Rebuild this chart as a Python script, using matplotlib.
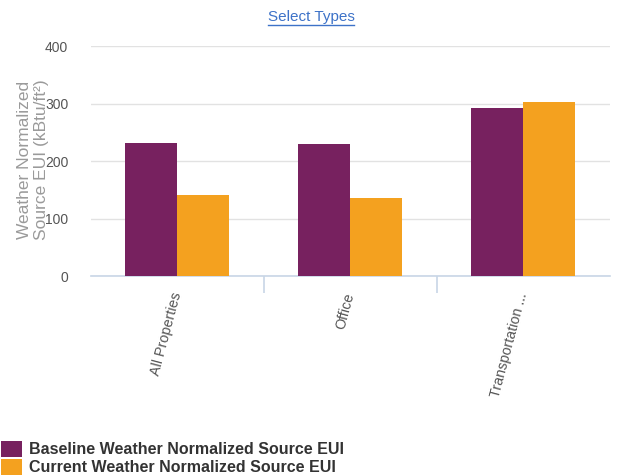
import matplotlib
matplotlib.use("Agg")
import matplotlib.pyplot as plt
from matplotlib.lines import Line2D
import numpy as np

categories = ["All Properties", "Office", "Transportation ..."]
baseline = [232, 230, 293]
current = [141, 136, 303]
series_names = ["Baseline Weather Normalized Source EUI", "Current Weather Normalized Source EUI"]
yticks = [0, 100, 200, 300, 400]

plt.rcParams['font.family'] = ['Liberation Sans', 'DejaVu Sans']

W, H = 619, 476
fig = plt.figure(figsize=(W / 100, H / 100), dpi=100)
ax = fig.add_axes([90.5 / W, 1 - 276 / H, (609.5 - 90.5) / W, (276 - 46) / H])

purple = "#77215f"
orange = "#f4a11f"
x = np.arange(len(categories))
bw = 0.298
b1 = ax.bar(x - bw / 2, baseline, bw, color=purple, label=series_names[0], zorder=3)
b2 = ax.bar(x + bw / 2, current, bw, color=orange, label=series_names[1], zorder=3)

ax.set_xlim(-0.5, 2.5)
ax.set_ylim(0, 400)
ax.set_yticks(yticks)
ax.set_yticklabels([str(v) for v in yticks], fontsize=10, color="#555555")
ax.tick_params(axis='y', length=0, pad=16)
ax.grid(axis='y', color="#e2e2e2", linewidth=1, zorder=0)
for s in ["top", "right", "left"]:
    ax.spines[s].set_visible(False)
ax.spines["bottom"].set_color("#c8d6e6")
ax.spines["bottom"].set_linewidth(1.2)

ax.set_xticks(x)
ax.set_xticklabels(categories, rotation=75, fontsize=10.3, color="#555555",
                   ha='right', va='center', rotation_mode='anchor')
ax.tick_params(axis='x', length=0, pad=12)
# category boundary ticks
ax.set_xticks([0.5, 1.5], minor=True)
ax.tick_params(axis='x', which='minor', length=12, color="#c8d6e6", width=1.2)

fig.text(33 / W, 1 - 160 / H, "Weather Normalized\nSource EUI (kBtu/ft²)", rotation=90,
         ha='center', va='center', fontsize=12.5, color="#9a9a9a", linespacing=1.15)

t = fig.text(311 / W, 1 - 17 / H, "Select Types", ha='center', va='center',
             fontsize=11, color="#3d72c8")
fig.canvas.draw()
bb = t.get_window_extent()
fig.add_artist(Line2D([bb.x0 / W, bb.x1 / W], [(bb.y0 - 0.5) / H, (bb.y0 - 0.5) / H],
                      color="#3d72c8", linewidth=1, transform=fig.transFigure))

leg = fig.legend(handles=[b1, b2], loc='lower left', bbox_to_anchor=(0, 0.0),
                 frameon=False, fontsize=11.5, handlelength=1.3, handleheight=1.2,
                 handletextpad=0.45, labelspacing=0.08, borderaxespad=0, borderpad=0.05)
for txt in leg.get_texts():
    txt.set_fontweight('bold')
    txt.set_color("#333333")

fig.savefig("out.png", dpi=100)
